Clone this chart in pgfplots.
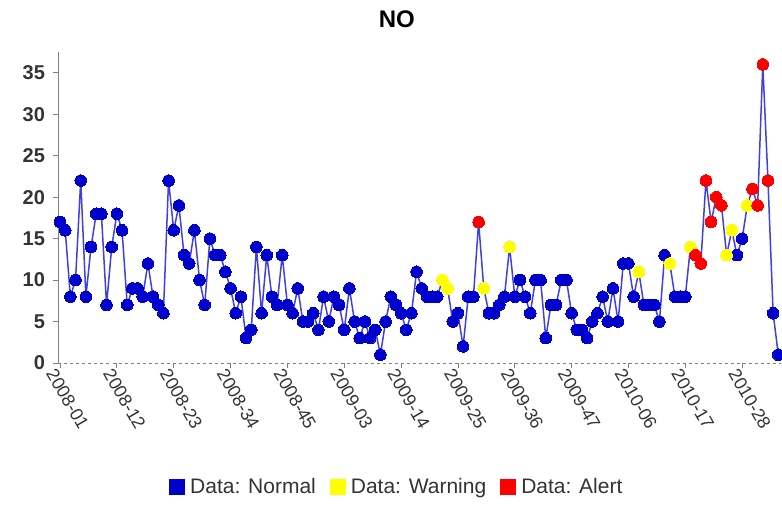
\documentclass[border=0pt]{standalone}
\usepackage{pgfplots}
\pgfplotsset{compat=1.18}
\usepackage{pgfplotstable}
\usepackage{fontspec}
\setmainfont{Liberation Sans}
\definecolor{nblue}{RGB}{0,0,204}
\definecolor{lblue}{RGB}{64,64,224}
\definecolor{wyellow}{RGB}{255,255,0}
\definecolor{ared}{RGB}{255,0,0}
\definecolor{txt}{RGB}{51,51,51}
\definecolor{axgray}{RGB}{128,128,128}

\pgfplotstableread{
i v
0 17
1 16
2 8
3 10
4 22
5 8
6 14
7 18
8 18
9 7
10 14
11 18
12 16
13 7
14 9
15 9
16 8
17 12
18 8
19 7
20 6
21 22
22 16
23 19
24 13
25 12
26 16
27 10
28 7
29 15
30 13
31 13
32 11
33 9
34 6
35 8
36 3
37 4
38 14
39 6
40 13
41 8
42 7
43 13
44 7
45 6
46 9
47 5
48 5
49 6
50 4
51 8
52 5
53 8
54 7
55 4
56 9
57 5
58 3
59 5
60 3
61 4
62 1
63 5
64 8
65 7
66 6
67 4
68 6
69 11
70 9
71 8
72 8
73 8
74 10
75 9
76 5
77 6
78 2
79 8
80 8
81 17
82 9
83 6
84 6
85 7
86 8
87 14
88 8
89 10
90 8
91 6
92 10
93 10
94 3
95 7
96 7
97 10
98 10
99 6
100 4
101 4
102 3
103 5
104 6
105 8
106 5
107 9
108 5
109 12
110 12
111 8
112 11
113 7
114 7
115 7
116 5
117 13
118 12
119 8
120 8
121 8
122 14
123 13
124 12
125 22
126 17
127 20
128 19
129 13
130 16
131 13
132 15
133 19
134 21
135 19
136 36
137 22
138 6
139 1
}\alldata

\pgfplotstableread{
i v
74 10
75 9
82 9
87 14
112 11
118 12
122 14
129 13
130 16
133 19
}\warndata

\pgfplotstableread{
i v
81 17
123 13
124 12
125 22
126 17
127 20
128 19
134 21
135 19
136 36
137 22
}\alertdata

\begin{document}
\begin{tikzpicture}
\useasboundingbox (0,0) rectangle (782pt,508pt);
\begin{axis}[
  at={(58.5pt,145pt)}, anchor=south west,
  scale only axis, width=722.9pt, height=311pt,
  xmin=-0.3, xmax=139.6, ymin=0, ymax=37.5,
  clip=false,
  axis x line*=bottom, axis y line*=left,
  x axis line style={-, dashed, axgray, line width=0.8pt},
  y axis line style={-, axgray, line width=1pt},
  tick align=outside,
  major tick length=5pt,
  tick style={axgray, line width=0.8pt},
  xtick={0,11,...,132},
  xticklabels={2008-01,2008-12,2008-23,2008-34,2008-45,2009-03,2009-14,2009-25,2009-36,2009-47,2010-06,2010-17,2010-28},
  xticklabel style={rotate=-60, anchor=north west, font=\fontsize{18}{21}\selectfont, text=txt, xshift=-6pt, yshift=1pt},
  ytick={0,5,...,35},
  yticklabel style={font=\fontsize{20}{24}\selectfont\bfseries, text=txt, xshift=-5pt},
  /pgf/number format/assume math mode=true,
  title={NO},
  title style={at={(0.468,1.087)}, anchor=center, font=\fontsize{24}{28}\selectfont\bfseries},
  legend columns=3,
  legend style={at={(0.468,-0.399)}, anchor=center, draw=none, fill=none,
    font=\fontsize{21}{24}\selectfont, text=txt,
    /tikz/every odd column/.append style={column sep=4pt},
    /tikz/every even column/.append style={column sep=12pt},
    inner sep=0pt},
  legend cell align=left,
]
\addlegendimage{only marks, mark=square*, mark size=7.5pt, color=nblue}
\addlegendentry{Data: Normal}
\addlegendimage{only marks, mark=square*, mark size=7.5pt, color=wyellow}
\addlegendentry{Data: Warning}
\addlegendimage{only marks, mark=square*, mark size=7.5pt, color=ared}
\addlegendentry{Data: Alert}
\addplot[lblue, line width=1.5pt, mark=*, mark size=5.8pt, mark options={fill=nblue, draw=nblue, line width=0pt}, forget plot] table[x=i, y=v] {\alldata};
\addplot[only marks, mark=*, mark size=5.8pt, mark options={fill=wyellow, draw=wyellow, line width=0pt}, forget plot] table[x=i, y=v] {\warndata};
\addplot[only marks, mark=*, mark size=5.8pt, mark options={fill=ared, draw=ared, line width=0pt}, forget plot] table[x=i, y=v] {\alertdata};
\end{axis}
\end{tikzpicture}
\end{document}
